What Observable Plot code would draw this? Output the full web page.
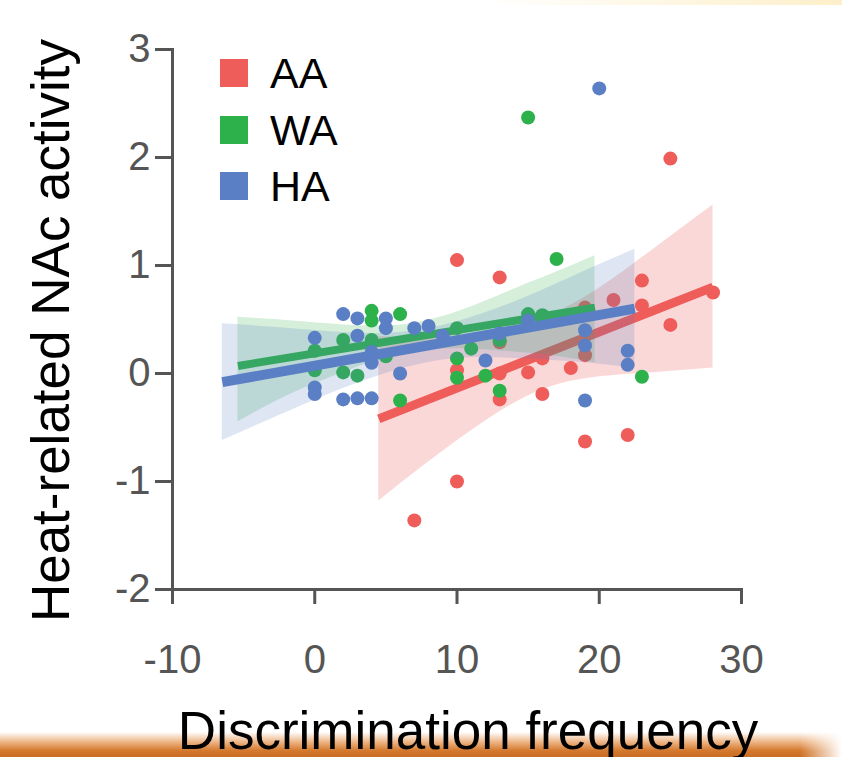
<!DOCTYPE html>
<html>
<head>
<meta charset="utf-8">
<script src="https://cdn.jsdelivr.net/npm/d3@7"></script>
<script src="https://cdn.jsdelivr.net/npm/@observablehq/plot@0.6"></script>
<style>
  html, body { margin: 0; padding: 0; background: #fff; }
  #wrap { position: relative; width: 842px; height: 757px; overflow: hidden; font-family: "Liberation Sans", Arial, sans-serif; }
  #bottomband { position: absolute; left: 0; top: 732px; width: 842px; height: 25px;
    background: linear-gradient(to bottom, rgba(230,140,60,0) 0%, rgba(225,130,50,0.6) 40%, #d3782c 75%, #c96d22 100%);
    -webkit-mask-image: linear-gradient(to right, #000 0%, #000 95%, rgba(0,0,0,0) 100%);
    mask-image: linear-gradient(to right, #000 0%, #000 95%, rgba(0,0,0,0) 100%); z-index: 0; }
  #topband { position: absolute; left: 480px; top: 0; width: 362px; height: 5px;
    background: linear-gradient(to right, rgba(253,240,200,0), #fdefc9); z-index: 0; }
  #chart { position: absolute; left: 0; top: 0; z-index: 1; }
  #legend { position: absolute; left: 220px; top: 59px; z-index: 2; }
  .item { position: absolute; left: 0; height: 28px; white-space: nowrap; }
  .sw { position: absolute; left: 0; top: 0; width: 28px; height: 28px; }
  .lb { position: absolute; left: 50px; top: -9px; font-size: 43px; line-height: 46px; color: #000; }
</style>
</head>
<body>
<div id="wrap">
  <div id="topband"></div>
  <div id="bottomband"></div>
  <div id="chart"></div>
  <div id="legend"></div>
</div>
<script>
// ---- data ----
const groups = ["AA", "WA", "HA"];
const colors = ["#ef5d5a", "#2db14b", "#5b7fc4"];

const aaX = [7, 10, 10, 10, 13, 13, 13, 13, 15, 16, 16, 18, 19, 19, 19, 21, 22, 23, 23, 25, 25, 28];
const aaY = [-1.36, -1.0, 1.05, 0.03, 0.89, 0.29, 0.0, -0.24, 0.01, 0.14, -0.19, 0.05, 0.61, 0.17, -0.63, 0.68, -0.57, 0.86, 0.63, 1.99, 0.45, 0.75];

const waX = [0, 0, 2, 2, 3, 4, 4, 4, 5, 6, 6, 10, 10, 10, 11, 12, 13, 13, 15, 15, 16, 17, 23];
const waY = [0.21, 0.03, 0.31, 0.01, -0.02, 0.58, 0.49, 0.31, 0.16, 0.55, -0.25, 0.42, 0.14, -0.04, 0.23, -0.02, 0.31, -0.16, 0.55, 2.37, 0.54, 1.06, -0.03];

const haX = [0, 0, 0, 2, 2, 3, 3, 3, 4, 4, 4, 5, 5, 6, 7, 8, 9, 12, 13, 15, 19, 19, 19, 20, 22, 22];
const haY = [0.33, -0.13, -0.19, 0.55, -0.24, 0.51, 0.35, -0.23, 0.20, 0.10, -0.23, 0.51, 0.42, 0.0, 0.42, 0.44, 0.35, 0.12, 0.37, 0.49, 0.40, 0.26, -0.25, 2.64, 0.21, 0.08];

// fitted lines (end points) and confidence bands
const aaFitX = [4.5, 28];   const aaFitY = [-0.42, 0.80];
const waFitX = [-5.4, 19.7]; const waFitY = [0.07, 0.61];
const haFitX = [-6.5, 22.5]; const haFitY = [-0.08, 0.60];

const aaBandX  = [4.5, 8, 12, 16, 20, 24, 28];
const aaBandLo = [-1.18, -0.82, -0.44, -0.15, -0.03, 0.01, 0.05];
const aaBandHi = [0.34, 0.34, 0.38, 0.51, 0.79, 1.17, 1.56];

const waBandX  = [-5.4, -2, 2, 6, 10, 14, 17, 19.7];
const waBandLo = [-0.45, -0.21, 0.01, 0.18, 0.23, 0.20, 0.16, 0.10];
const waBandHi = [0.52, 0.49, 0.45, 0.45, 0.57, 0.78, 0.94, 1.09];

const haBandX  = [-6.5, -2, 2, 6, 10, 14, 18, 22.5];
const haBandLo = [-0.62, -0.36, -0.14, 0.04, 0.14, 0.14, 0.11, 0.05];
const haBandHi = [0.46, 0.42, 0.38, 0.38, 0.48, 0.66, 0.89, 1.15];

const xTicks = [-10, 0, 10, 20, 30];
const yTicks = [-2, -1, 0, 1, 2, 3];
const xTitle = "Discrimination frequency";
const yTitle = "Heat-related NAc activity";

// ---- build tables ----
const pts = (xs, ys) => xs.map((x, i) => ({x, y: ys[i]}));
const band = (xs, lo, hi) => xs.map((x, i) => ({x, lo: lo[i], hi: hi[i]}));
const series = [
  {pts: pts(aaX, aaY), fit: pts(aaFitX, aaFitY), band: band(aaBandX, aaBandLo, aaBandHi), color: colors[0], op: 0.24, w: 9},
  {pts: pts(waX, waY), fit: pts(waFitX, waFitY), band: band(waBandX, waBandLo, waBandHi), color: colors[1], op: 0.2, w: 8},
  {pts: pts(haX, haY), fit: pts(haFitX, haFitY), band: band(haBandX, haBandLo, haBandHi), color: colors[2], op: 0.2, w: 10}
];

const marks = [];
for (const s of series) {
  marks.push(Plot.areaY(s.band, {x: "x", y1: "lo", y2: "hi", fill: s.color, fillOpacity: s.op, curve: "natural"}));
  marks.push(Plot.dot(s.pts, {x: "x", y: "y", r: 7, fill: s.color}));
  marks.push(Plot.line(s.fit, {x: "x", y: "y", stroke: s.color, strokeWidth: s.w, strokeLinecap: "butt"}));
}

const plot = Plot.plot({
  width: 842,
  height: 757,
  marginLeft: 172,
  marginRight: 101,
  marginTop: 49,
  marginBottom: 168,
  style: {background: "transparent", fontFamily: "'Liberation Sans', Arial, sans-serif"},
  x: {domain: [-10, 30]},
  y: {domain: [-2, 3]},
  marks: [
    ...marks,
    Plot.frame({anchor: "left", stroke: "#555", strokeWidth: 3}),
    Plot.frame({anchor: "bottom", stroke: "#555", strokeWidth: 3}),
    Plot.axisX({ticks: xTicks, tickFormat: d => String(d), tickSize: 15, tickPadding: 40, fontSize: 40,
      stroke: "#555", strokeWidth: 3, fill: "#555", label: null}),
    Plot.axisY({ticks: yTicks, tickFormat: d => String(d), tickSize: 17, tickPadding: 5, fontSize: 40,
      stroke: "#555", strokeWidth: 3, fill: "#555", label: null}),
    Plot.text([xTitle], {text: d => d, frameAnchor: "bottom", dx: 11, dy: 159, fontSize: 53, lineAnchor: "bottom", fill: "#000"}),
    Plot.text([yTitle], {text: d => d, frameAnchor: "left", textAnchor: "middle", rotate: -90, dx: -104, dy: 11, fontSize: 53, lineAnchor: "bottom", fill: "#000"})
  ]
});
document.getElementById("chart").appendChild(plot);

// legend
const legend = document.getElementById("legend");
groups.forEach((g, i) => {
  const item = document.createElement("div");
  item.className = "item";
  item.style.top = (i * 56.5) + "px";
  item.innerHTML = `<div class="sw" style="background:${colors[i]}"></div><div class="lb">${g}</div>`;
  legend.appendChild(item);
});
</script>
</body>
</html>
